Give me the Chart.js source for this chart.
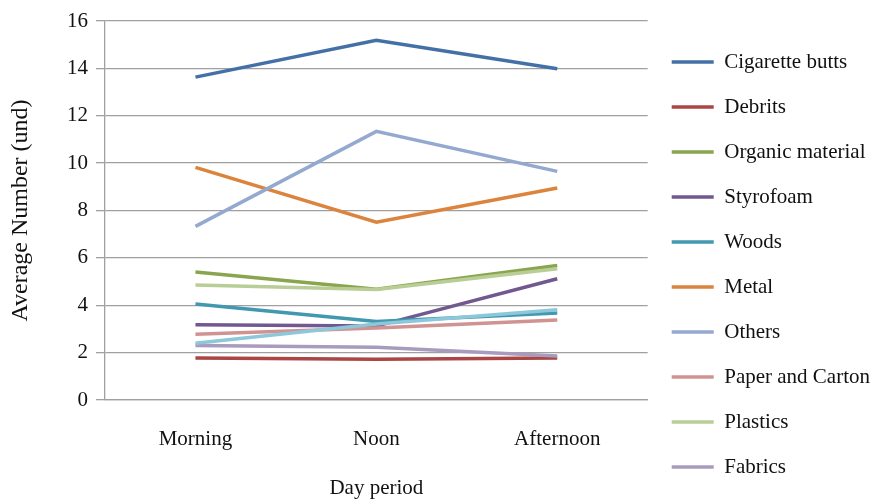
<!DOCTYPE html>
<html>
<head>
<meta charset="utf-8">
<script src="https://cdn.jsdelivr.net/npm/chart.js@4/dist/chart.umd.min.js"></script>
<style>
  html, body { margin: 0; padding: 0; background: #fff; }
  #wrap { width: 880px; height: 502px; }
</style>
</head>
<body>
<div id="wrap"><canvas id="chart"></canvas></div>
<script>
const periods = ['Morning', 'Noon', 'Afternoon'];
const yTicks = [0, 2, 4, 6, 8, 10, 12, 14, 16];

const cigaretteButts = [13.63, 15.19, 13.98];
const debrits = [1.77, 1.72, 1.77];
const organicMaterial = [5.40, 4.68, 5.68];
const styrofoam = [3.18, 3.12, 5.12];
const woods = [4.05, 3.31, 3.67];
const metal = [9.82, 7.51, 8.95];
const others = [7.33, 11.34, 9.65];
const paperAndCarton = [2.78, 3.04, 3.38];
const plastics = [4.86, 4.67, 5.54];
const fabrics = [2.30, 2.23, 1.86];
const unlisted = [2.40, 3.21, 3.81];

const series = [
  ['Cigarette butts', cigaretteButts, '#4470a8'],
  ['Debrits', debrits, '#aa4643'],
  ['Organic material', organicMaterial, '#89a54e'],
  ['Styrofoam', styrofoam, '#71588f'],
  ['Woods', woods, '#4198af'],
  ['Metal', metal, '#db843d'],
  ['Others', others, '#93a9cf'],
  ['Paper and Carton', paperAndCarton, '#d19392'],
  ['Plastics', plastics, '#b9cd96'],
  ['Fabrics', fabrics, '#a99bbd'],
  ['', unlisted, '#8cc8da'],
];

const serif = '"Liberation Serif", "Times New Roman", serif';
const gridColor = '#a0a0a0';

function drawChart() {
  new Chart(document.getElementById('chart'), {
    type: 'line',
    data: {
      labels: periods,
      datasets: series.map(([label, data, c], i) => ({
        label,
        data,
        borderColor: c,
        backgroundColor: c,
        borderWidth: 3.5,
        pointRadius: 0,
        tension: 0,
        order: series.length - i,
      })),
    },
    options: {
      responsive: true,
      maintainAspectRatio: false,
      animation: false,
      // negative bottom pads the legend down a little; x axis height compensates
      layout: { padding: { top: 21, right: 0, bottom: -6, left: 0 } },
      plugins: {
        tooltip: { enabled: false },
        legend: {
          position: 'right',
          align: 'center',
          maxWidth: 260,
          labels: {
            usePointStyle: true,
            pointStyle: 'line',
            pointStyleWidth: 42,
            padding: 24,
            color: '#111',
            font: { family: serif, size: 21 },
            filter: (item) => item.datasetIndex < 10,
            sort: (a, b) => a.datasetIndex - b.datasetIndex,
          },
        },
      },
      scales: {
        x: {
          offset: true,
          grid: { display: false, drawTicks: false },
          border: { display: true, color: gridColor, width: 1.3 },
          ticks: { color: '#111', font: { family: serif, size: 21 }, padding: 27 },
          title: {
            display: true,
            text: 'Day period',
            color: '#111',
            font: { family: serif, size: 21 },
            padding: { top: 0, bottom: 7 },
          },
          afterFit: (scale) => { scale.height = 108; },
        },
        y: {
          min: 0,
          max: 16,
          afterBuildTicks: (scale) => { scale.ticks = yTicks.map((v) => ({ value: v })); },
          grid: { color: gridColor, lineWidth: 1.3, tickLength: 9 },
          border: { display: true, color: gridColor, width: 1.3 },
          ticks: { color: '#111', font: { family: serif, size: 21 }, padding: 8 },
          title: {
            display: true,
            text: 'Average Number (und)',
            color: '#111',
            font: { family: serif, size: 24 },
            padding: { top: 6, bottom: 0 },
          },
          afterFit: (scale) => { scale.width = 105; },
        },
      },
    },
  });
}

document.fonts.load('21px "Liberation Serif"').then(drawChart, drawChart);
</script>
</body>
</html>
